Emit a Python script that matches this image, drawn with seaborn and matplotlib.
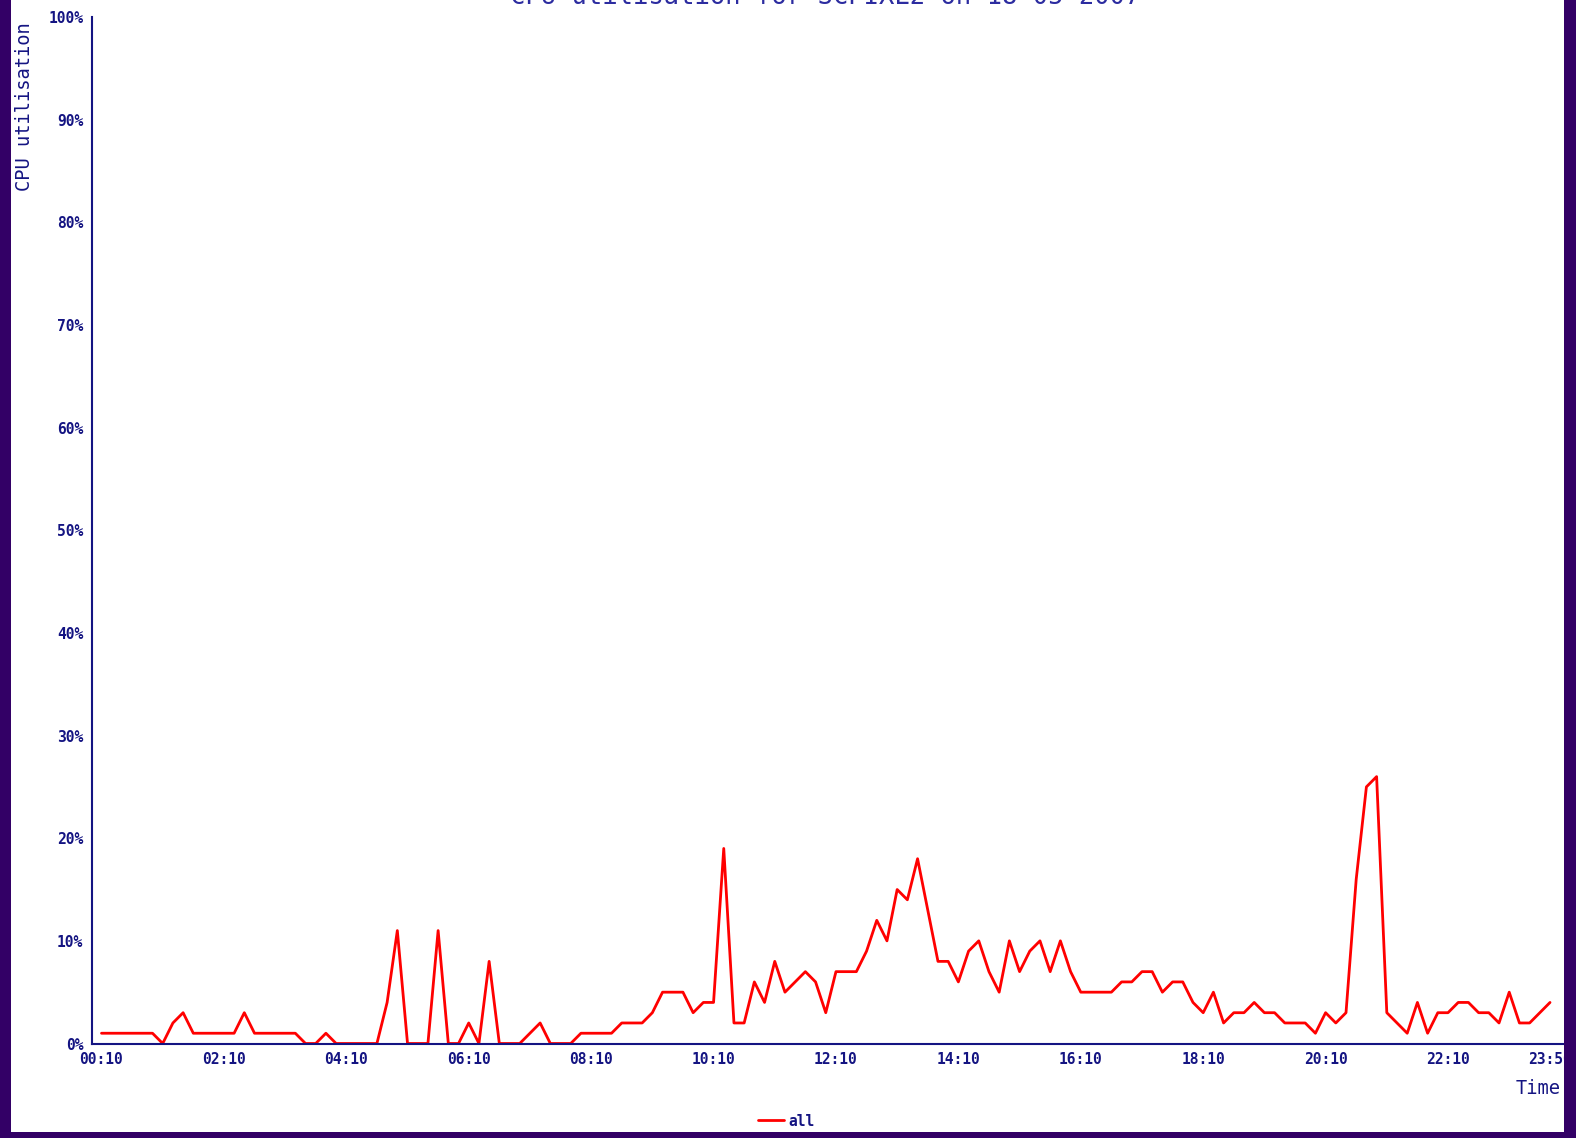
import numpy as np
import pandas as pd
import seaborn as sns
import matplotlib
matplotlib.use('Agg')
from matplotlib import pyplot as plt
from matplotlib.patches import Rectangle

# 10 minute samples from 00:10 to 23:50
minutes = np.arange(10, 1440, 10)
cpu_all = [1, 1, 1, 1, 1, 1, 0, 2, 3, 1,
           1, 1, 1, 1, 3, 1, 1, 1, 1, 1,
           0, 0, 1, 0, 0, 0, 0, 0, 4, 11,
           0, 0, 0, 11, 0, 0, 2, 0, 8, 0,
           0, 0, 1, 2, 0, 0, 0, 1, 1, 1,
           1, 2, 2, 2, 3, 5, 5, 5, 3, 4,
           4, 19, 2, 2, 6, 4, 8, 5, 6, 7,
           6, 3, 7, 7, 7, 9, 12, 10, 15, 14,
           18, 13, 8, 8, 6, 9, 10, 7, 5, 10,
           7, 9, 10, 7, 10, 7, 5, 5, 5, 5,
           6, 6, 7, 7, 5, 6, 6, 4, 3, 5,
           2, 3, 3, 4, 3, 3, 2, 2, 2, 1,
           3, 2, 3, 16, 25, 26, 3, 2, 1, 4,
           1, 3, 3, 4, 4, 3, 3, 2, 5, 2,
           2, 3, 4]

tick_minutes = [10, 130, 250, 370, 490, 610, 730, 850, 970, 1090, 1210, 1330, 1430]
tick_labels = ['00:10', '02:10', '04:10', '06:10', '08:10', '10:10', '12:10',
               '14:10', '16:10', '18:10', '20:10', '22:10', '23:50']
y_ticks = list(range(0, 101, 10))

df = pd.DataFrame({'minutes': minutes, 'cpu': cpu_all})

sns.set_style('white')
plt.rcParams['font.family'] = ['DejaVu Sans Mono']

navy = '#141482'
W, H = 1576, 1138
fig = plt.figure(figsize=(W / 100, H / 100), dpi=100, facecolor='white')
ax = fig.add_axes([91.5 / W, (H - 1043.5) / H, (1564 - 91.5) / W, (1043.5 - 17) / H])
ax.set_facecolor('white')

sns.lineplot(data=df, x='minutes', y='cpu', ax=ax, color='#ff0000',
             linewidth=2, label='all', legend=False)

ax.set_xlim(0.2, 1443.7)
ax.set_ylim(0, 100)
ax.set_xticks(tick_minutes)
ax.set_xticklabels(tick_labels, fontweight='bold', fontsize=10.5)
ax.set_yticks(y_ticks)
ax.set_yticklabels([f'{v}%' for v in y_ticks], fontweight='bold', fontsize=10.5)
ax.tick_params(direction='in', length=7, width=1.5, color=navy,
               labelcolor=navy, pad=6)
ax.set_xlabel('')
ax.set_ylabel('')
for s in ['top', 'right']:
    ax.spines[s].set_visible(False)
for s in ['left', 'bottom']:
    ax.spines[s].set_color(navy)
    ax.spines[s].set_linewidth(1.5)

# title sits mostly above the top edge, as in the original
fig.text(825 / W, 1 - 4 / H, 'CPU utilisation for SCPIXL2 on 18-05-2007',
         ha='center', va='baseline', fontsize=18.4, color='#2c2ca0')
fig.text(25 / W, 1 - 22 / H, 'CPU utilisation', rotation=90, ha='center',
         va='top', fontsize=13.5, color=navy)
fig.text(1561 / W, 1 - 1089 / H, 'Time', ha='right', va='center',
         fontsize=13.5, color=navy)

fig.legend([ax.lines[0]], ['all'], loc='center',
           bbox_to_anchor=(786 / W, 1 - 1121 / H), frameon=False,
           handlelength=1.8, handletextpad=0.3,
           prop={'weight': 'bold', 'size': 10.5}, labelcolor=navy)

# purple frame round the white panel
purple = '#330066'
for x0, y0, w, h in [(0, 0, 11, H), (1564, 0, W - 1564, H), (0, 1132, W, H - 1132)]:
    fig.add_artist(Rectangle((x0 / W, 1 - (y0 + h) / H), w / W, h / H,
                             transform=fig.transFigure, color=purple,
                             zorder=10, lw=0))

fig.savefig('out.png', dpi=100, facecolor='white')
